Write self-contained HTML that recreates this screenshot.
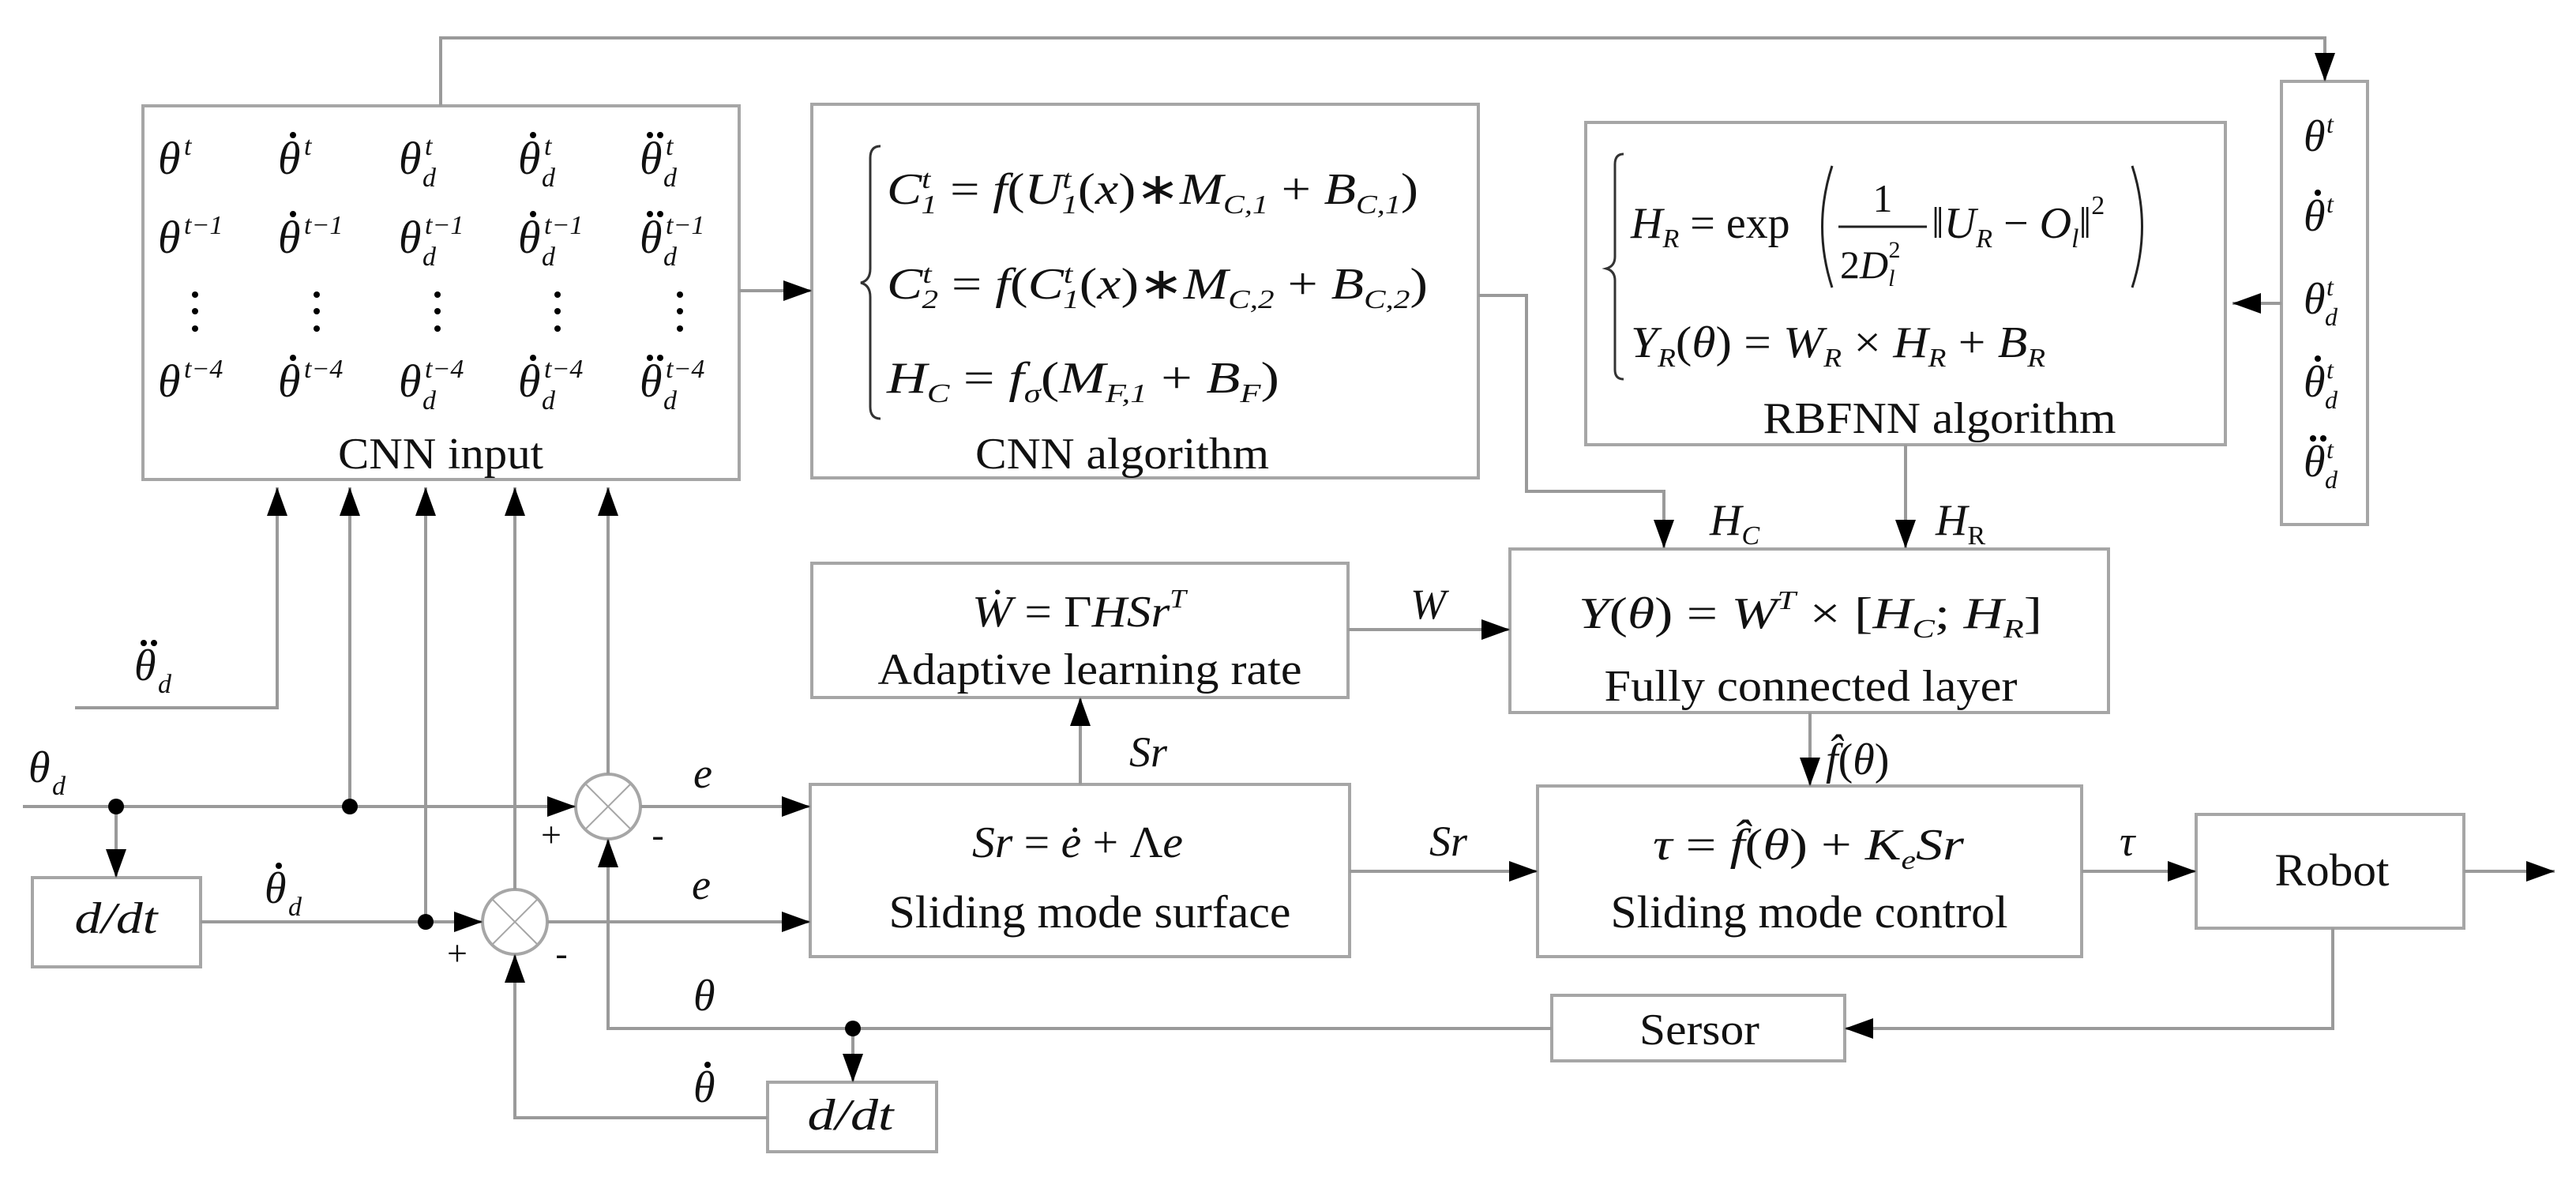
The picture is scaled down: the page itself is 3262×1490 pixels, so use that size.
<!DOCTYPE html>
<html><head><meta charset="utf-8"><style>
html,body{margin:0;padding:0;background:#fff}
svg{display:block}
text{font-family:"Liberation Serif",serif;fill:#111}
.i{font-style:italic}
</style></head><body>
<svg width="3262" height="1490" viewBox="0 0 3262 1490" xmlns="http://www.w3.org/2000/svg">
<defs>
<marker id="a" markerWidth="36" markerHeight="26" refX="36" refY="13" orient="auto" markerUnits="userSpaceOnUse"><path d="M0,0 L36,13 L0,26z" fill="#000"/></marker>
</defs>
<g fill="none" stroke="#a6a6a6" stroke-width="4">
<rect x="181" y="134" width="755" height="473"/>
<rect x="1028" y="132" width="844" height="473"/>
<rect x="2008" y="155" width="810" height="408"/>
<rect x="2889" y="103" width="109" height="561"/>
<rect x="1028" y="713" width="679" height="170"/>
<rect x="1026" y="993" width="683" height="218"/>
<rect x="1912" y="695" width="758" height="207"/>
<rect x="1947" y="995" width="689" height="216"/>
<rect x="2781" y="1031" width="339" height="144"/>
<rect x="1965" y="1260" width="371" height="83"/>
<rect x="41" y="1111" width="213" height="113"/>
<rect x="972" y="1370" width="214" height="88"/>
<circle cx="770" cy="1021" r="41"/>
<circle cx="652" cy="1167" r="41"/>
<path d="M741 992L799 1050M799 992L741 1050M623 1138L681 1196M681 1138L623 1196" stroke-width="2"/>
</g>
<g fill="none" stroke="#9a9a9a" stroke-width="4" marker-end="url(#a)">
<path d="M558 134V48H2944V103"/>
<path d="M936 368H1028"/>
<path d="M1872 374H1933V622H2107V694"/>
<path d="M2413 563V694"/>
<path d="M2889 384H2827"/>
<path d="M95 896H351V617"/>
<path d="M29 1021H729"/>
<path d="M443 1021V617"/>
<path d="M147 1021V1111"/>
<path d="M254 1167H611"/>
<path d="M539 1167V617"/>
<path d="M652 1126V617"/>
<path d="M770 980V617"/>
<path d="M811 1021H1026"/>
<path d="M693 1167H1026"/>
<path d="M1965 1302H770V1062"/>
<path d="M1080 1302V1370"/>
<path d="M972 1415H652V1208"/>
<path d="M1368 993V883"/>
<path d="M1707 797H1912"/>
<path d="M1709 1103H1947"/>
<path d="M2292 902V995"/>
<path d="M2636 1103H2781"/>
<path d="M3120 1103H3235"/>
<path d="M2954 1175V1302H2336"/>
</g>
<g fill="#000">
<circle cx="147" cy="1021" r="10"/><circle cx="443" cy="1021" r="10"/>
<circle cx="539" cy="1167" r="10"/><circle cx="1080" cy="1302" r="10"/>
</g>

<!-- CNN input matrix -->
<g font-size="58" class="i">
<text x="200" y="220">θ</text><text x="352" y="220">θ</text><text x="505" y="220">θ</text><text x="656" y="220">θ</text><text x="810" y="220">θ</text>
<text x="200" y="320">θ</text><text x="352" y="320">θ</text><text x="505" y="320">θ</text><text x="656" y="320">θ</text><text x="810" y="320">θ</text>
<text x="200" y="502">θ</text><text x="352" y="502">θ</text><text x="505" y="502">θ</text><text x="656" y="502">θ</text><text x="810" y="502">θ</text>
</g>
<g fill="#000">
<circle cx="371" cy="171" r="4"/><circle cx="675" cy="171" r="4"/><circle cx="823" cy="171" r="4"/><circle cx="836" cy="171" r="4"/>
<circle cx="371" cy="271" r="4"/><circle cx="675" cy="271" r="4"/><circle cx="823" cy="271" r="4"/><circle cx="836" cy="271" r="4"/>
<circle cx="371" cy="453" r="4"/><circle cx="675" cy="453" r="4"/><circle cx="823" cy="453" r="4"/><circle cx="836" cy="453" r="4"/>
</g>
<g font-size="34" class="i">
<text x="233" y="196">t</text><text x="385" y="196">t</text><text x="538" y="196">t</text><text x="689" y="196">t</text><text x="843" y="196">t</text>
<text x="233" y="296">t−1</text><text x="385" y="296">t−1</text><text x="538" y="296">t−1</text><text x="689" y="296">t−1</text><text x="843" y="296">t−1</text>
<text x="233" y="478">t−4</text><text x="385" y="478">t−4</text><text x="538" y="478">t−4</text><text x="689" y="478">t−4</text><text x="843" y="478">t−4</text>
<text x="535" y="236">d</text><text x="686" y="236">d</text><text x="840" y="236">d</text>
<text x="535" y="336">d</text><text x="686" y="336">d</text><text x="840" y="336">d</text>
<text x="535" y="518">d</text><text x="686" y="518">d</text><text x="840" y="518">d</text>
</g>
<g fill="#000">
<circle cx="247" cy="373" r="4"/><circle cx="247" cy="394" r="4"/><circle cx="247" cy="416" r="4"/>
<circle cx="401" cy="373" r="4"/><circle cx="401" cy="394" r="4"/><circle cx="401" cy="416" r="4"/>
<circle cx="554" cy="373" r="4"/><circle cx="554" cy="394" r="4"/><circle cx="554" cy="416" r="4"/>
<circle cx="706" cy="373" r="4"/><circle cx="706" cy="394" r="4"/><circle cx="706" cy="416" r="4"/>
<circle cx="861" cy="373" r="4"/><circle cx="861" cy="394" r="4"/><circle cx="861" cy="416" r="4"/>
</g>
<text x="558" y="593" font-size="56" text-anchor="middle" textLength="260" lengthAdjust="spacingAndGlyphs">CNN input</text>

<!-- CNN algorithm -->
<path d="M1115 185Q1102 185 1102 200V340Q1102 355 1090 358Q1102 361 1102 376V515Q1102 530 1115 530" fill="none" stroke="#333" stroke-width="3"/>
<text x="1123" y="258" font-size="56" class="i" textLength="673" lengthAdjust="spacingAndGlyphs">C<tspan font-size="34" dy="-20">t</tspan><tspan font-size="34" dx="-10" dy="32">1</tspan><tspan dy="-12" font-style="normal"> = </tspan>f<tspan font-style="normal">(</tspan>U<tspan font-size="34" dy="-20">t</tspan><tspan font-size="34" dx="-10" dy="32">1</tspan><tspan dy="-12" font-style="normal">(</tspan>x<tspan font-style="normal">)∗</tspan>M<tspan font-size="34" dy="12">C,1</tspan><tspan dy="-12" font-style="normal"> + </tspan>B<tspan font-size="34" dy="12">C,1</tspan><tspan dy="-12" font-style="normal">)</tspan></text>
<text x="1123" y="378" font-size="56" class="i" textLength="685" lengthAdjust="spacingAndGlyphs">C<tspan font-size="34" dy="-20">t</tspan><tspan font-size="34" dx="-10" dy="32">2</tspan><tspan dy="-12" font-style="normal"> = </tspan>f<tspan font-style="normal">(</tspan>C<tspan font-size="34" dy="-20">t</tspan><tspan font-size="34" dx="-10" dy="32">1</tspan><tspan dy="-12" font-style="normal">(</tspan>x<tspan font-style="normal">)∗</tspan>M<tspan font-size="34" dy="12">C,2</tspan><tspan dy="-12" font-style="normal"> + </tspan>B<tspan font-size="34" dy="12">C,2</tspan><tspan dy="-12" font-style="normal">)</tspan></text>
<text x="1123" y="497" font-size="56" class="i" textLength="497" lengthAdjust="spacingAndGlyphs">H<tspan font-size="34" dy="12">C</tspan><tspan dy="-12" font-style="normal"> = </tspan>f<tspan font-size="34" dy="12">σ</tspan><tspan dy="-12" font-style="normal">(</tspan>M<tspan font-size="34" dy="12">F,1</tspan><tspan dy="-12" font-style="normal"> + </tspan>B<tspan font-size="34" dy="12">F</tspan><tspan dy="-12" font-style="normal">)</tspan></text>
<text x="1421" y="593" font-size="56" text-anchor="middle" textLength="372" lengthAdjust="spacingAndGlyphs">CNN algorithm</text>

<!-- RBFNN -->
<path d="M2056 195Q2045 195 2045 208V325Q2045 337 2034 340Q2045 343 2045 355V468Q2045 480 2056 480" fill="none" stroke="#333" stroke-width="3"/>
<text x="2065" y="301" font-size="56" class="i">H<tspan font-size="34" dy="12">R</tspan><tspan dy="-12" font-style="normal"> = exp</tspan></text>
<path d="M2320 210Q2295 287 2320 364M2700 210Q2725 287 2700 364" fill="none" stroke="#222" stroke-width="3"/>
<line x1="2328" y1="287" x2="2440" y2="287" stroke="#222" stroke-width="3"/>
<text x="2384" y="268" font-size="50" text-anchor="middle">1</text>
<text x="2330" y="352" font-size="50" class="i"><tspan font-style="normal">2</tspan>D<tspan font-size="30" dy="10">l</tspan><tspan font-size="30" dx="-8" dy="-36" font-style="normal">2</tspan></text>
<text x="2446" y="301" font-size="56" class="i"><tspan font-style="normal">‖</tspan>U<tspan font-size="34" dy="12">R</tspan><tspan dy="-12" font-style="normal"> − </tspan>O<tspan font-size="34" dy="12">l</tspan><tspan dy="-12" font-style="normal">‖</tspan><tspan font-size="34" dy="-30" font-style="normal">2</tspan></text>
<text x="2065" y="452" font-size="56" class="i" textLength="525" lengthAdjust="spacingAndGlyphs">Y<tspan font-size="34" dy="12">R</tspan><tspan dy="-12" font-style="normal">(</tspan>θ<tspan font-style="normal">) = </tspan>W<tspan font-size="34" dy="12">R</tspan><tspan dy="-12" font-style="normal"> × </tspan>H<tspan font-size="34" dy="12">R</tspan><tspan dy="-12" font-style="normal"> + </tspan>B<tspan font-size="34" dy="12">R</tspan></text>
<text x="2456" y="548" font-size="56" text-anchor="middle" textLength="447" lengthAdjust="spacingAndGlyphs">RBFNN algorithm</text>

<!-- right column -->
<g font-size="56" class="i">
<text x="2917" y="191">θ</text><text x="2917" y="292">θ</text><text x="2917" y="397">θ</text><text x="2917" y="502">θ</text><text x="2917" y="603">θ</text>
</g>
<g fill="#000">
<circle cx="2935" cy="244" r="4"/><circle cx="2935" cy="454" r="4"/><circle cx="2929" cy="555" r="4"/><circle cx="2942" cy="555" r="4"/>
</g>
<g font-size="32" class="i">
<text x="2946" y="168">t</text><text x="2946" y="269">t</text><text x="2946" y="374">t</text><text x="2946" y="479">t</text><text x="2946" y="580">t</text>
<text x="2944" y="412">d</text><text x="2944" y="517">d</text><text x="2944" y="618">d</text>
</g>

<text x="2165" y="677" font-size="56" class="i">H<tspan font-size="34" dy="12">C</tspan></text>
<text x="2451" y="677" font-size="56" class="i">H<tspan font-size="34" dy="12" font-style="normal">R</tspan></text>

<!-- Adaptive -->
<text x="1231" y="793" font-size="56" class="i" textLength="271" lengthAdjust="spacingAndGlyphs">Ẇ<tspan font-style="normal"> = Γ</tspan>HSr<tspan font-size="34" dy="-24">T</tspan></text>
<text x="1380" y="866" font-size="56" text-anchor="middle" textLength="537" lengthAdjust="spacingAndGlyphs">Adaptive learning rate</text>
<text x="1786" y="783" font-size="54" class="i">W</text>
<text x="1430" y="970" font-size="54" class="i">Sr</text>

<!-- Sliding surface -->
<text x="1231" y="1085" font-size="56" class="i" textLength="267" lengthAdjust="spacingAndGlyphs">Sr<tspan font-style="normal"> = </tspan>ė<tspan font-style="normal"> + Λ</tspan>e</text>
<text x="1380" y="1174" font-size="58" text-anchor="middle" textLength="509" lengthAdjust="spacingAndGlyphs">Sliding mode surface</text>
<text x="1810" y="1083" font-size="54" class="i">Sr</text>

<!-- Fully connected -->
<text x="1999" y="795" font-size="56" class="i" textLength="587" lengthAdjust="spacingAndGlyphs">Y<tspan font-style="normal">(</tspan>θ<tspan font-style="normal">) = </tspan>W<tspan font-size="34" dy="-24">T</tspan><tspan dy="24" font-style="normal"> × [</tspan>H<tspan font-size="34" dy="12">C</tspan><tspan dy="-12" font-style="normal">;    </tspan>H<tspan font-size="34" dy="12">R</tspan><tspan dy="-12" font-style="normal">]</tspan></text>
<text x="2293" y="887" font-size="56" text-anchor="middle" textLength="523" lengthAdjust="spacingAndGlyphs">Fully connected layer</text>
<text x="2312" y="980" font-size="56" class="i">f̂<tspan font-style="normal">(</tspan>θ<tspan font-style="normal">)</tspan></text>

<!-- SMC -->
<text x="2093" y="1088" font-size="56" class="i" textLength="394" lengthAdjust="spacingAndGlyphs">τ<tspan font-style="normal"> = </tspan>f̂<tspan font-style="normal">(</tspan>θ<tspan font-style="normal">) + </tspan>K<tspan font-size="34" dy="12">e</tspan><tspan dy="-12">Sr</tspan></text>
<text x="2291" y="1174" font-size="58" text-anchor="middle" textLength="503" lengthAdjust="spacingAndGlyphs">Sliding mode control</text>
<text x="2684" y="1083" font-size="54" class="i">τ</text>

<text x="2953" y="1121" font-size="58" text-anchor="middle" textLength="145" lengthAdjust="spacingAndGlyphs">Robot</text>
<text x="2152" y="1322" font-size="56" text-anchor="middle" textLength="152" lengthAdjust="spacingAndGlyphs">Sersor</text>

<!-- left signals -->
<text x="170" y="861" font-size="56" class="i">θ</text><text x="200" y="877" font-size="34" class="i">d</text>
<text x="36" y="990" font-size="56" class="i">θ</text><text x="66" y="1006" font-size="34" class="i">d</text>
<text x="335" y="1143" font-size="56" class="i">θ</text><text x="365" y="1159" font-size="34" class="i">d</text>
<text x="878" y="1279" font-size="56" class="i">θ</text>
<text x="878" y="1395" font-size="56" class="i">θ</text>
<g fill="#000">
<circle cx="182" cy="814" r="4"/><circle cx="195" cy="814" r="4"/>
<circle cx="353" cy="1096" r="4"/>
<circle cx="896" cy="1348" r="4"/>
</g>
<text x="147" y="1181" font-size="56" class="i" text-anchor="middle" textLength="105" lengthAdjust="spacingAndGlyphs">d/dt</text>
<text x="1077" y="1430" font-size="56" class="i" text-anchor="middle" textLength="109" lengthAdjust="spacingAndGlyphs">d/dt</text>
<text x="878" y="997" font-size="54" class="i">e</text>
<text x="876" y="1138" font-size="54" class="i">e</text>
<text x="698" y="1072" font-size="46" text-anchor="middle">+</text>
<text x="833" y="1072" font-size="46" text-anchor="middle">-</text>
<text x="579" y="1222" font-size="46" text-anchor="middle">+</text>
<text x="711" y="1222" font-size="46" text-anchor="middle">-</text>
</svg>
</body></html>
